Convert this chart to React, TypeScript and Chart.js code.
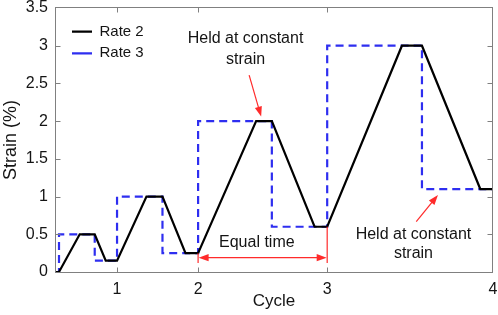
import React, { useEffect, useRef } from 'react';
import { Chart, registerables } from 'chart.js';

Chart.register(...registerables);

// Time axis (arbitrary units); cycle ends are labelled 1..4
const rate2Time = [0, 4, 24.7, 39.7, 50.7, 62, 91.4, 107.4, 130.4, 143, 201, 216.7, 259.4, 272, 346.7, 366.7, 425, 437.7];
const rate2Strain = [0, 0, 0.5, 0.5, 0.15, 0.15, 1, 1, 0.25, 0.25, 2, 2, 0.6, 0.6, 3, 3, 1.1, 1.1];

const rate3Time = [0, 4, 4, 39.7, 39.7, 62, 62, 107.4, 107.4, 143, 143, 216.7, 216.7, 272, 272, 366.7, 366.7, 437.7];
const rate3Strain = [0, 0, 0.5, 0.5, 0.15, 0.15, 1, 1, 0.25, 0.25, 2, 2, 0.6, 0.6, 3, 3, 1.1, 1.1];

const cycleTicks = [62, 143, 272, 437.7];
const cycleLabels = ['1', '2', '3', '4'];

const yMin = 0;
const yMax = 3.5;
const yStep = 0.5;

const FONT = "'Liberation Sans', Arial, Helvetica, sans-serif";
const RED = '#ff2b2b';
const AXIS = '#808080';
const TEXT = '#141414';

type Note = { lines: string[]; x: number; y: number[]; from: [number, number]; to: [number, number] };
const notes: Note[] = [
  { lines: ['Held at constant', 'strain'], x: 190.4, y: [3.09, 2.82], from: [194, 2.61], to: [206, 2.06] },
  { lines: ['Held at constant', 'strain'], x: 358.2, y: [0.5, 0.24], from: [361, 0.667], to: [382.7, 1.02] },
];
const equalTime = { text: 'Equal time', x: 201.7, y: 0.385, arrowY: 0.19, x1: 143, x2: 272, lineBottom: 0.12, top1: 0.25, top2: 0.6 };

function arrowHead(ctx: CanvasRenderingContext2D, x1: number, y1: number, x2: number, y2: number) {
  const ang = Math.atan2(y2 - y1, x2 - x1);
  const len = 10;
  const hw = 3.6;
  ctx.beginPath();
  ctx.moveTo(x2, y2);
  ctx.lineTo(x2 - len * Math.cos(ang) + hw * Math.sin(ang), y2 - len * Math.sin(ang) - hw * Math.cos(ang));
  ctx.lineTo(x2 - len * Math.cos(ang) - hw * Math.sin(ang), y2 - len * Math.sin(ang) + hw * Math.cos(ang));
  ctx.closePath();
  ctx.fill();
}

function arrow(ctx: CanvasRenderingContext2D, x1: number, y1: number, x2: number, y2: number) {
  const ang = Math.atan2(y2 - y1, x2 - x1);
  ctx.beginPath();
  ctx.moveTo(x1, y1);
  ctx.lineTo(x2 - 6 * Math.cos(ang), y2 - 6 * Math.sin(ang));
  ctx.stroke();
  arrowHead(ctx, x1, y1, x2, y2);
}

export default function App() {
  const ref = useRef<HTMLCanvasElement>(null);

  useEffect(() => {
    const canvas = ref.current;
    if (!canvas) return;
    Chart.defaults.font.family = FONT;

    const legendShift = {
      id: 'legendShift',
      afterLayout(chart: any) {
        const lg = chart.legend;
        if (lg) {
          lg.left = chart.chartArea.left + 10.4;
          lg.top = chart.chartArea.top + 9.6;
        }
      },
    };

    const frame = {
      id: 'frame',
      afterDraw(chart: any) {
        const ctx: CanvasRenderingContext2D = chart.ctx;
        const ca = chart.chartArea;
        const xs = chart.scales.x;
        const ys = chart.scales.y;
        ctx.save();
        // box
        ctx.strokeStyle = AXIS;
        ctx.lineWidth = 1;
        const L = Math.round(ca.left) + 0.5;
        const R = Math.round(ca.right) - 0.5;
        const T = Math.round(ca.top) - 0.5;
        const B = Math.round(ca.bottom) + 0.5;
        ctx.strokeRect(L, T, R - L, B - T);
        ctx.beginPath();
        cycleTicks.slice(0, -1).forEach((v) => {
          const px = Math.round(xs.getPixelForValue(v)) + 0.5;
          ctx.moveTo(px, B);
          ctx.lineTo(px, B - 5);
          ctx.moveTo(px, T);
          ctx.lineTo(px, T + 5);
        });
        for (let v = yMin + yStep; v < yMax - 1e-6; v += yStep) {
          const py = Math.round(ys.getPixelForValue(v)) + 0.5;
          ctx.moveTo(L, py);
          ctx.lineTo(L + 5, py);
          ctx.moveTo(R, py);
          ctx.lineTo(R - 5, py);
        }
        ctx.stroke();

        // annotations
        ctx.strokeStyle = RED;
        ctx.fillStyle = RED;
        ctx.lineWidth = 1.2;
        notes.forEach((n) => {
          arrow(ctx, xs.getPixelForValue(n.from[0]), ys.getPixelForValue(n.from[1]), xs.getPixelForValue(n.to[0]), ys.getPixelForValue(n.to[1]));
        });
        const ex1 = xs.getPixelForValue(equalTime.x1);
        const ex2 = xs.getPixelForValue(equalTime.x2);
        const ey = ys.getPixelForValue(equalTime.arrowY);
        const eb = ys.getPixelForValue(equalTime.lineBottom);
        ctx.beginPath();
        ctx.moveTo(ex1, ys.getPixelForValue(equalTime.top1));
        ctx.lineTo(ex1, eb);
        ctx.moveTo(ex2, ys.getPixelForValue(equalTime.top2));
        ctx.lineTo(ex2, eb);
        ctx.moveTo(ex1 + 6, ey);
        ctx.lineTo(ex2 - 6, ey);
        ctx.stroke();
        arrowHead(ctx, ex2, ey, ex1 + 0.5, ey);
        arrowHead(ctx, ex1, ey, ex2 - 0.5, ey);

        ctx.fillStyle = TEXT;
        ctx.font = `16px ${FONT}`;
        ctx.textAlign = 'center';
        ctx.textBaseline = 'middle';
        notes.forEach((n) => {
          n.lines.forEach((t, i) => ctx.fillText(t, xs.getPixelForValue(n.x), ys.getPixelForValue(n.y[i])));
        });
        ctx.fillText(equalTime.text, xs.getPixelForValue(equalTime.x), ys.getPixelForValue(equalTime.y));
        ctx.restore();
      },
    };

    const chart = new Chart(canvas, {
      type: 'line',
      data: {
        datasets: [
          {
            label: 'Rate 2',
            data: rate2Time.map((t, i) => ({ x: t, y: rate2Strain[i] })),
            borderColor: '#000000',
            backgroundColor: '#000000',
            borderWidth: 2.2,
            pointRadius: 0,
            tension: 0,
            fill: false,
            clip: false as any,
          },
          {
            label: 'Rate 3',
            data: rate3Time.map((t, i) => ({ x: t, y: rate3Strain[i] })),
            borderColor: '#2e2ef0',
            backgroundColor: '#2e2ef0',
            borderDash: [8, 5],
            borderWidth: 2.2,
            pointRadius: 0,
            tension: 0,
            fill: false,
            clip: false as any,
          },
        ],
      },
      options: {
        responsive: false,
        animation: false,
        devicePixelRatio: 1,
        layout: { padding: { top: 8, right: 5, left: 0, bottom: 0 } },
        scales: {
          x: {
            type: 'linear',
            min: 0,
            max: cycleTicks[cycleTicks.length - 1],
            afterFit: (s: any) => {
              s.height = 43;
              s.paddingLeft = 0;
              s.paddingRight = 0;
            },
            afterBuildTicks: (s: any) => {
              s.ticks = cycleTicks.map((v) => ({ value: v }));
            },
            grid: { display: false, drawTicks: false },
            border: { display: false },
            ticks: {
              padding: 8,
              autoSkip: false,
              maxRotation: 0,
              color: TEXT,
              font: { size: 16 },
              callback: (_v: any, i: number) => cycleLabels[i],
            },
            title: { display: true, text: 'Cycle', color: TEXT, font: { size: 17 }, padding: { top: 0, bottom: 3 } },
          },
          y: {
            type: 'linear',
            min: yMin,
            max: yMax,
            afterFit: (s: any) => {
              s.width = 55;
              s.paddingTop = 0;
              s.paddingBottom = 0;
            },
            grid: { display: false, drawTicks: false },
            border: { display: false },
            ticks: {
              stepSize: yStep,
              padding: 7,
              color: TEXT,
              font: { size: 16 },
              callback: (v: any) => String(Number(v)),
            },
            title: { display: true, text: 'Strain (%)', color: TEXT, font: { size: 18 }, padding: { top: 0, bottom: 0 } },
          },
        },
        plugins: {
          legend: {
            position: 'chartArea' as any,
            align: 'start',
            labels: {
              usePointStyle: true,
              pointStyle: 'line',
              pointStyleWidth: 20,
              padding: 6.6,
              color: TEXT,
              font: { size: 15 },
            },
          },
          tooltip: { enabled: false },
        },
      },
      plugins: [legendShift, frame],
    });
    return () => chart.destroy();
  }, []);

  return (
    <div style={{ position: 'absolute', left: 0, top: 0, width: 498, height: 315, background: '#fff' }}>
      <canvas ref={ref} width={498} height={315} />
    </div>
  );
}
